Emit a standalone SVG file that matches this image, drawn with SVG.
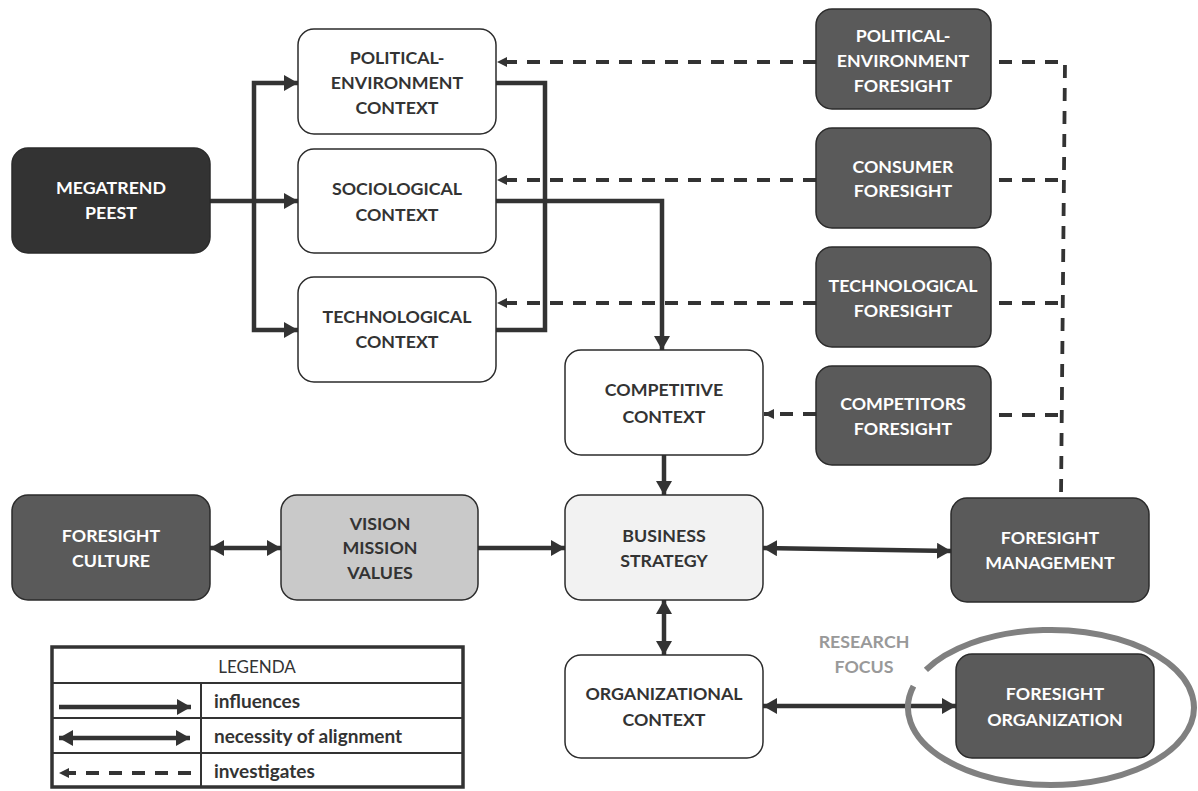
<svg xmlns="http://www.w3.org/2000/svg" width="1198" height="791" viewBox="0 0 1198 791">
<defs>
<style>
.box{stroke:#2b2b2b;stroke-width:1.5}
.white{fill:#ffffff}
.light{fill:#f2f2f2}
.mid{fill:#c9c9c9}
.dark{fill:#5a5a5a}
.black{fill:#333333}
.t{font-family:Lato,"Liberation Sans",sans-serif;font-weight:bold;font-size:17.8px;text-anchor:middle}
.td{fill:#333333}
.tw{fill:#ffffff}
.solid{fill:none;stroke:#333333;stroke-width:4.5}
.dash{fill:none;stroke:#333333;stroke-width:3.8;stroke-dasharray:13 10}
.lg{font-family:Lato,"Liberation Sans",sans-serif;font-size:17px;fill:#333333}
.lb{font-family:Lato,"Liberation Sans",sans-serif;font-size:19px;font-weight:bold;fill:#333333}
</style>
<marker id="ah" markerUnits="userSpaceOnUse" markerWidth="14" markerHeight="16" refX="14" refY="8" orient="auto-start-reverse" viewBox="0 0 14 16">
<path d="M0,0 L14,8 L0,16 z" fill="#333333"/>
</marker>
<marker id="sh" markerUnits="userSpaceOnUse" markerWidth="10" markerHeight="10" refX="10" refY="5" orient="auto" viewBox="0 0 10 10">
<path d="M0,0 L10,5 L0,10 z" fill="#333333"/>
</marker>
</defs>
<rect width="1198" height="791" fill="#ffffff"/>

<g id="connectors">
<path class="solid" d="M210,201 H298" marker-end="url(#ah)"/>
<path class="solid" d="M254,201 V83 H298" marker-end="url(#ah)"/>
<path class="solid" d="M254,201 V330 H298" marker-end="url(#ah)"/>
<path class="solid" d="M496,83 H545 V330 H496"/>
<path class="solid" d="M496,201 H662 V350" marker-end="url(#ah)"/>
<path class="solid" d="M664,455 V495" marker-end="url(#ah)"/>
<path class="solid" d="M664,600 V655" marker-start="url(#ah)" marker-end="url(#ah)"/>
<path class="solid" d="M478,548 H565" marker-end="url(#ah)"/>
<path class="solid" d="M210,548 H281" marker-start="url(#ah)" marker-end="url(#ah)"/>
<path class="solid" d="M763,548 L951,551" marker-start="url(#ah)" marker-end="url(#ah)"/>
<path class="solid" d="M763,706 H956" marker-start="url(#ah)" marker-end="url(#ah)"/>
<path class="dash" d="M816,62 H497" marker-end="url(#sh)"/>
<path class="dash" d="M816,180 H497" marker-end="url(#sh)"/>
<path class="dash" d="M816,303 H497" marker-end="url(#sh)"/>
<path class="dash" d="M816,414 H764" marker-end="url(#sh)"/>
<path class="dash" d="M999,62 H1065 L1061,497"/>
<path class="dash" d="M999,180 H1064"/>
<path class="dash" d="M999,303 H1063"/>
<path class="dash" d="M999,415 H1062"/>
</g>

<g id="megatrend">
<rect class="box black" x="12" y="148" width="198" height="105" rx="16"/>
<text class="t tw" x="111" y="194">MEGATREND</text>
<text class="t tw" x="111" y="219">PEEST</text>
</g>

<g id="political-context">
<rect class="box white" x="298" y="29" width="198" height="105" rx="16"/>
<text class="t td" x="397" y="64">POLITICAL-</text>
<text class="t td" x="397" y="89">ENVIRONMENT</text>
<text class="t td" x="397" y="114">CONTEXT</text>
</g>

<g id="sociological-context">
<rect class="box white" x="298" y="149" width="198" height="104" rx="16"/>
<text class="t td" x="397" y="195">SOCIOLOGICAL</text>
<text class="t td" x="397" y="221">CONTEXT</text>
</g>

<g id="technological-context">
<rect class="box white" x="298" y="277" width="198" height="105" rx="16"/>
<text class="t td" x="397" y="323">TECHNOLOGICAL</text>
<text class="t td" x="397" y="348">CONTEXT</text>
</g>

<g id="political-foresight">
<rect class="box dark" x="816" y="9" width="175" height="100" rx="16"/>
<text class="t tw" x="903" y="42">POLITICAL-</text>
<text class="t tw" x="903" y="67">ENVIRONMENT</text>
<text class="t tw" x="903" y="92">FORESIGHT</text>
</g>

<g id="consumer-foresight">
<rect class="box dark" x="816" y="128" width="175" height="100" rx="16"/>
<text class="t tw" x="903" y="173">CONSUMER</text>
<text class="t tw" x="903" y="197">FORESIGHT</text>
</g>

<g id="technological-foresight">
<rect class="box dark" x="816" y="247" width="175" height="100" rx="16"/>
<text class="t tw" x="903" y="292">TECHNOLOGICAL</text>
<text class="t tw" x="903" y="317">FORESIGHT</text>
</g>

<g id="competitors-foresight">
<rect class="box dark" x="816" y="366" width="175" height="99" rx="16"/>
<text class="t tw" x="903" y="410">COMPETITORS</text>
<text class="t tw" x="903" y="435">FORESIGHT</text>
</g>

<g id="competitive-context">
<rect class="box white" x="565" y="350" width="198" height="105" rx="16"/>
<text class="t td" x="664" y="396">COMPETITIVE</text>
<text class="t td" x="664" y="423">CONTEXT</text>
</g>

<g id="foresight-culture">
<rect class="box dark" x="12" y="495" width="198" height="105" rx="16"/>
<text class="t tw" x="111" y="542">FORESIGHT</text>
<text class="t tw" x="111" y="567">CULTURE</text>
</g>

<g id="vision">
<rect class="box mid" x="281" y="495" width="197" height="105" rx="16"/>
<text class="t td" x="380" y="530">VISION</text>
<text class="t td" x="380" y="554">MISSION</text>
<text class="t td" x="380" y="579">VALUES</text>
</g>

<g id="business-strategy">
<rect class="box light" x="565" y="495" width="198" height="105" rx="16"/>
<text class="t td" x="664" y="542">BUSINESS</text>
<text class="t td" x="664" y="567">STRATEGY</text>
</g>

<g id="foresight-management">
<rect class="box dark" x="951" y="498" width="198" height="104" rx="16"/>
<text class="t tw" x="1050" y="544">FORESIGHT</text>
<text class="t tw" x="1050" y="569">MANAGEMENT</text>
</g>

<g id="organizational-context">
<rect class="box white" x="565" y="655" width="198" height="103" rx="16"/>
<text class="t td" x="664" y="700">ORGANIZATIONAL</text>
<text class="t td" x="664" y="726">CONTEXT</text>
</g>

<g id="foresight-organization">
<rect class="box dark" x="956" y="654" width="198" height="104" rx="16"/>
<text class="t tw" x="1055" y="700">FORESIGHT</text>
<text class="t tw" x="1055" y="726">ORGANIZATION</text>
</g>

<g id="research-focus">
<path d="M925.9,669.9 A143,77.5 0 1 1 913.5,686.1" fill="none" stroke="#808080" stroke-width="6"/>
<text class="t" x="864" y="648" fill="#999999">RESEARCH</text>
<text class="t" x="864" y="673" fill="#999999">FOCUS</text>
</g>

<g id="legend">
<rect x="52" y="647" width="411" height="140" fill="#ffffff" stroke="#333333" stroke-width="3.5"/>
<path d="M52,683 H463 M52,718 H463 M52,753 H463 M201,683 V787" stroke="#333333" stroke-width="2" fill="none"/>
<text class="lg" x="257" y="673" text-anchor="middle">LEGENDA</text>
<path class="solid" d="M59,707 H191" marker-end="url(#ah)"/>
<path class="solid" d="M59,738 H190" marker-start="url(#ah)" marker-end="url(#ah)"/>
<path class="dash" d="M191,773 H59" marker-end="url(#sh)"/>
<text class="lb" x="214" y="708">influences</text>
<text class="lb" x="214" y="743">necessity of alignment</text>
<text class="lb" x="214" y="778">investigates</text>
</g>
</svg>
